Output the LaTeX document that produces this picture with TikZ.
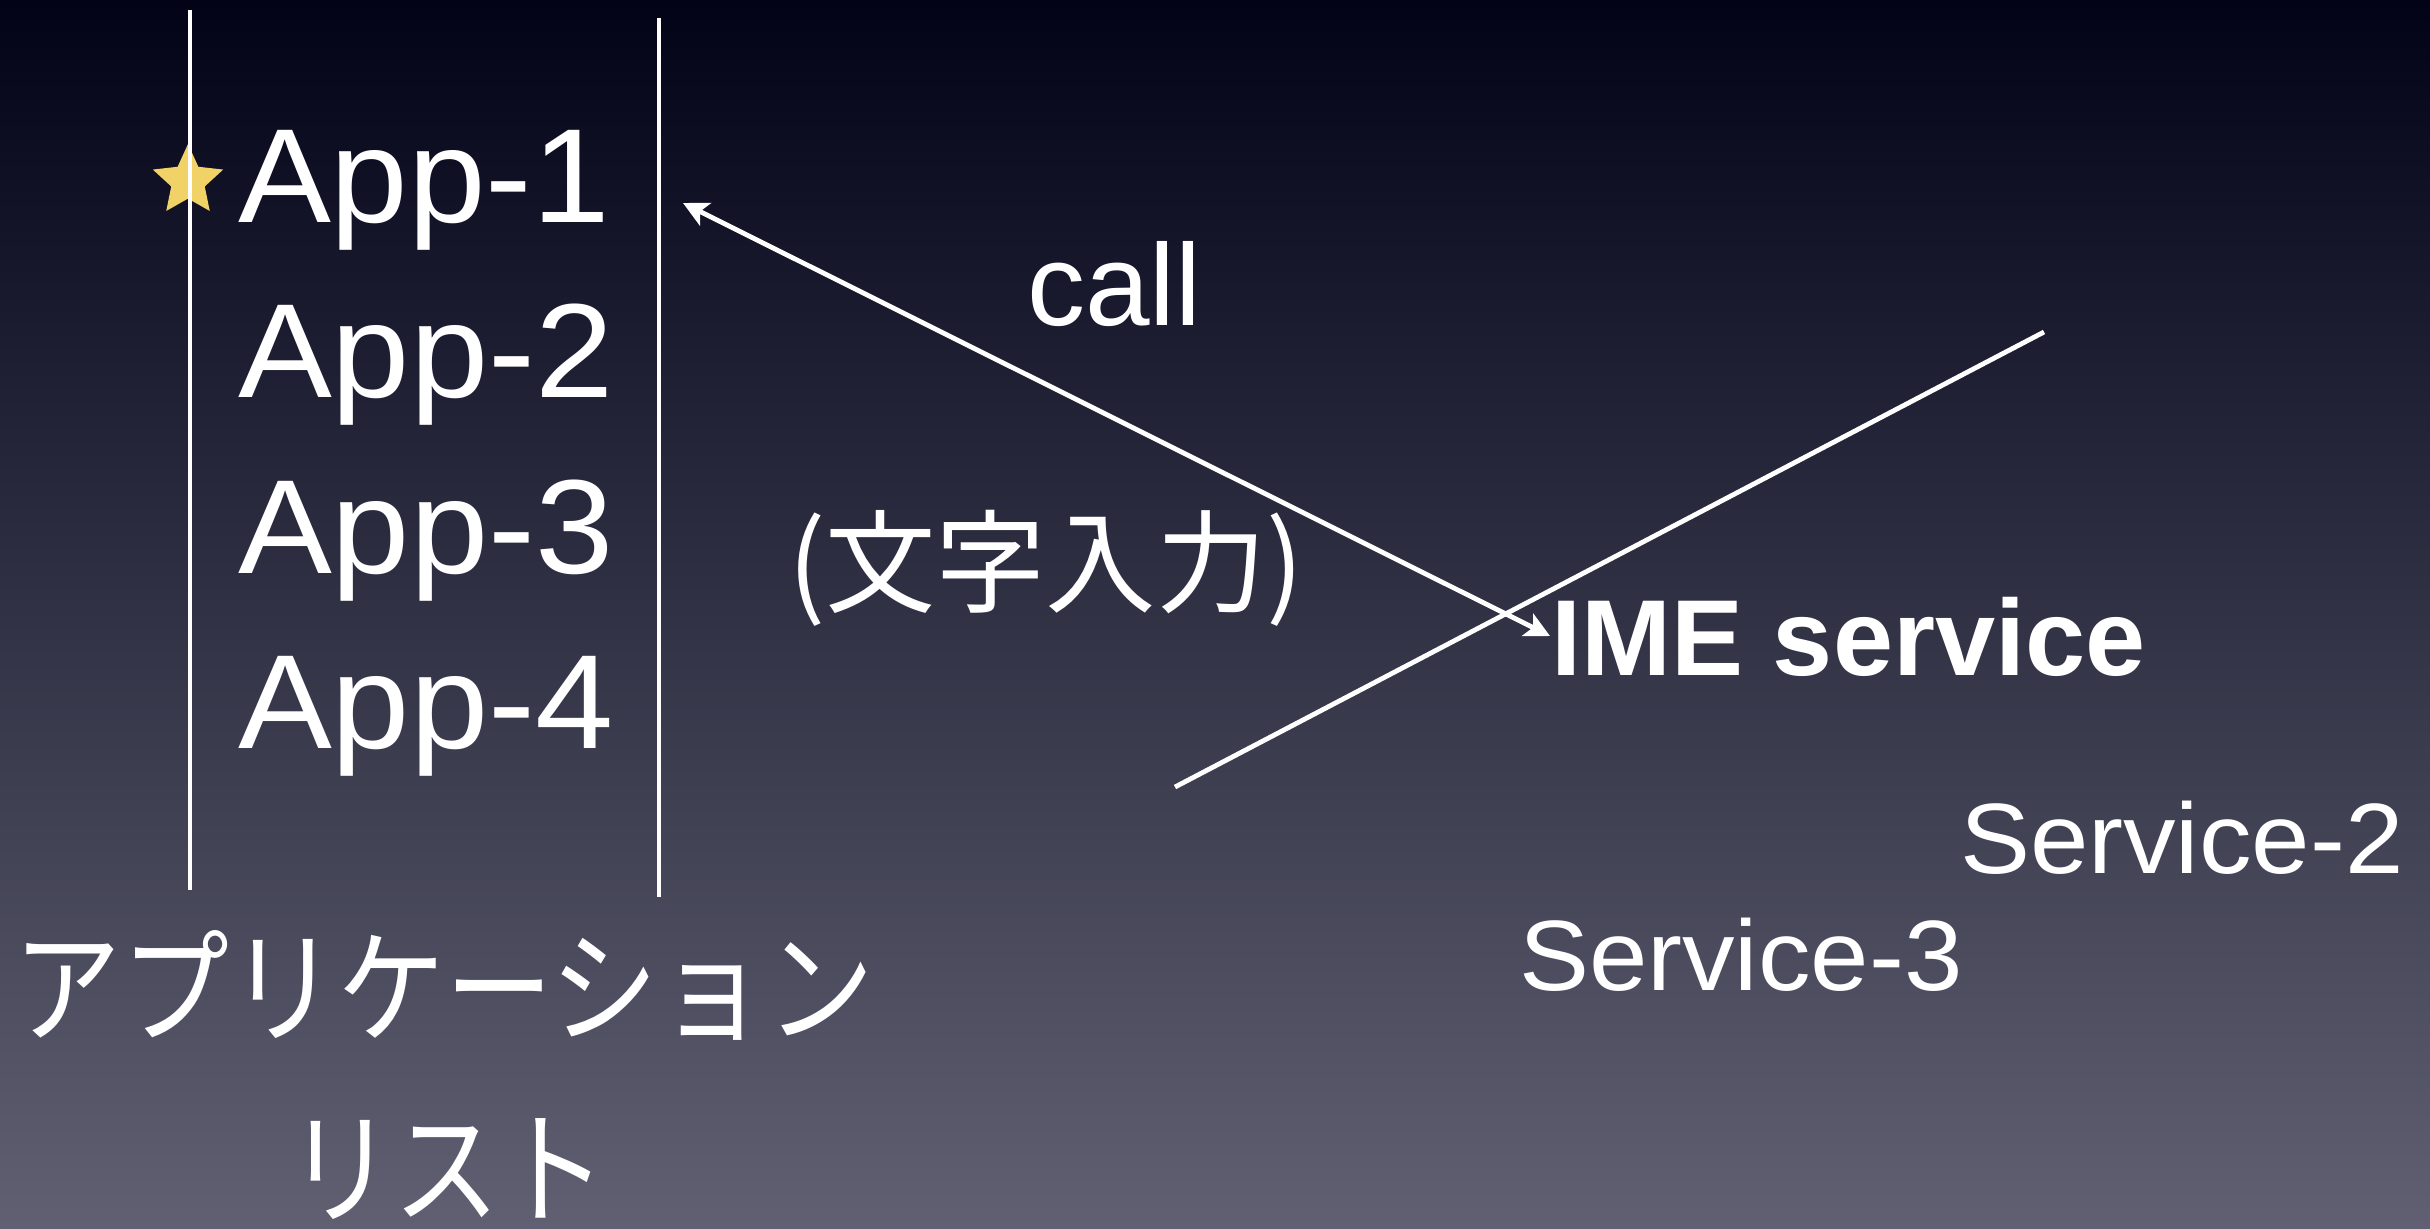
\documentclass[tikz,border=0pt]{standalone}
\usepackage{fontspec}
\setmainfont{Liberation Sans}
\newfontfamily\jp{Noto Sans CJK JP}
\usetikzlibrary{shapes.geometric,arrows.meta}
\definecolor{bgtop}{RGB}{3,3,24}
\definecolor{bgmid}{RGB}{38,38,64}
\definecolor{bgbot}{RGB}{96,96,114}
\definecolor{starcol}{RGB}{241,210,102}
\tikzset{
  txt/.style={text=white, inner sep=0pt, outer sep=0pt},
  applabel/.style={txt, anchor=base west, font=\fontsize{67pt}{67pt}\selectfont},
  svclabel/.style={txt, anchor=base west, font=\fontsize{50pt}{50pt}\selectfont},
  wline/.style={draw=white, line width=2.4pt},
  arr/.style={wline, {Stealth[length=12.5pt,width=12.5pt,inset=3pt]}-{Stealth[length=12.5pt,width=12.5pt,inset=3pt]}},
}
\begin{document}
\begin{tikzpicture}[x=0.5pt,y=-0.5pt]
\useasboundingbox (0,0) rectangle (2430,1228);
\shade[top color=bgtop, middle color=bgmid, bottom color=bgbot] (0,0) rectangle (2430,1228);
% star
\node[star, star points=5, star point ratio=2.1, fill=starcol, minimum size=37pt, inner sep=0pt] (star) at (188,181) {};
% list lines
\coordinate (l1a) at (190,10);
\coordinate (l1b) at (190,890);
\coordinate (l2a) at (659,18);
\coordinate (l2b) at (659,897);
\draw[wline] (l1a) -- (l1b);
\draw[wline] (l2a) -- (l2b);
% apps
\node[applabel] (app1) at (238,222) {\scalebox{1.04}[1]{App-1}};
\node[applabel] (app2) at (238,397) {\scalebox{1.05}[1]{App-2}};
\node[applabel] (app3) at (238,573) {\scalebox{1.05}[1]{App-3}};
\node[applabel] (app4) at (238,748) {\scalebox{1.05}[1]{App-4}};
% title
\node[txt, anchor=base, font=\jp\fontsize{62pt}{62pt}\selectfont] (title1) at (444,1033) {\scalebox{0.87}[1]{アプリケーション}};
\node[txt, anchor=base, font=\jp\fontsize{62pt}{62pt}\selectfont] (title2) at (447,1214) {\scalebox{0.86}[1]{リスト}};
% call arrow
\coordinate (callL) at (683,203);
\coordinate (callR) at (1550,636);
\draw[arr] (callL) -- (callR);
\node[txt, anchor=base west, font=\fontsize{58pt}{58pt}\selectfont] (call) at (1027,325) {call};
\node[txt, anchor=base west, font=\jp\fontsize{56pt}{56pt}\selectfont] (moji) at (788,604) {\scalebox{0.985}[1]{(文字入力)}};
% IME
\node[txt, anchor=base west, font=\bfseries\fontsize{54pt}{54pt}\selectfont] (ime) at (1551,675) {IME service};
% cross line
\coordinate (xa) at (1175,787);
\coordinate (xb) at (2044,332);
\draw[wline] (xa) -- (xb);
% services
\node[svclabel] (svc2) at (1960,873) {\scalebox{1.05}[1]{Service-2}};
\node[svclabel] (svc3) at (1519,990) {\scalebox{1.05}[1]{Service-3}};
\end{tikzpicture}
\end{document}
